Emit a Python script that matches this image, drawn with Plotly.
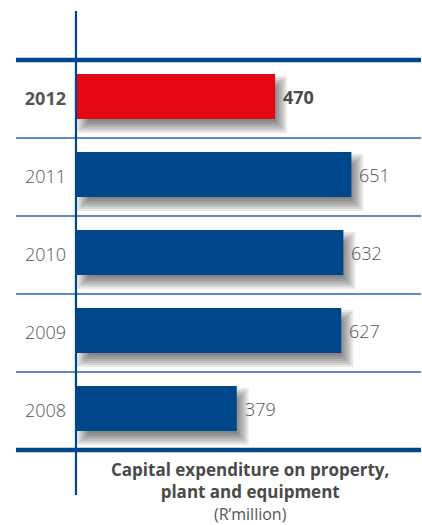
import plotly.graph_objects as go

years = ["2008", "2009", "2010", "2011", "2012"]
values = [379, 627, 632, 651, 470]
highlight_year = "2012"

BLUE = "#00468b"
RED = "#e30613"
TXT = "#555555"

W, H = 422, 525
ML, MR, MT, MB = 77, 1, 11, 30
PX_PER_UNIT_X = 0.4215
ROW_PX = 78.0
xmax = (W - ML - MR) / PX_PER_UNIT_X
top_extra = (60 - MT) / ROW_PX
bot_extra = (H - MB - 450) / ROW_PX
n = len(years)
idx = list(range(n))
bar_up = 2.5 / ROW_PX
bar_w = 45 / ROW_PX

fig = go.Figure()

# soft drop shadow layers
dx, dy = 6, 8
for s in [-6, -4, -2, 0, 2, 4, 6]:
    fig.add_trace(go.Bar(
        orientation="h",
        y=[i + bar_up - dy / ROW_PX for i in idx],
        x=[v - 2 * s / PX_PER_UNIT_X for v in values],
        base=(dx + s) / PX_PER_UNIT_X,
        width=(45 - 2 * s) / ROW_PX,
        marker=dict(color="rgba(0,0,0,0.085)", line=dict(width=0)),
        hoverinfo="skip", showlegend=False,
    ))

colors = [RED if y == highlight_year else BLUE for y in years]
fig.add_trace(go.Bar(
    orientation="h",
    y=[i + bar_up for i in idx],
    x=values,
    width=bar_w,
    marker=dict(color=colors, line=dict(width=0)),
    showlegend=False,
))

for i, (y, v) in enumerate(zip(years, values)):
    bold = y == highlight_year
    fig.add_annotation(
        x=v, y=i + bar_up, xref="x", yref="y",
        text=f"<b>{v}</b>" if bold else str(v),
        showarrow=False, xanchor="left", yanchor="middle", xshift=6,
        font=dict(family="Open Sans", size=18, color="#4a4a4a" if bold else TXT,
                  weight=700 if bold else 300),
    )

ticktext = [f"<b>{y}</b>" if y == highlight_year else y for y in years]

shapes = []
# row separators
for b in [k + 0.5 for k in range(-1, n)]:
    thick = b in (-0.5, n - 0.5)
    shapes.append(dict(type="line", xref="paper", yref="y",
                       x0=(16 - ML) / (W - ML - MR), x1=1, y0=b, y1=b,
                       line=dict(color=BLUE if thick else "#2f63a3", width=4.5 if thick else 1.5),
                       layer="above"))
# vertical axis line
shapes.append(dict(type="line", xref="paper", yref="paper", x0=-0.003, x1=-0.003, y0=0, y1=1,
                   line=dict(color=BLUE, width=2.2), layer="above"))

cx = (250 - ML) / (W - ML - MR)
PH = H - MT - MB
caption = ("<span style='color:#4a4a4a'><b>Capital expenditure on property,</b></span><br>"
           "<span style='color:#4a4a4a'><b>plant and equipment</b></span><br>"
           "<span style='font-size:16px'>(R’million)</span>")
fig.add_annotation(xref="paper", yref="paper", x=cx, y=(H - MB - 491) / PH,
                   text=caption, showarrow=False, align="center",
                   font=dict(family="Open Sans", size=17, color=TXT), yanchor="middle")

fig.update_layout(
    width=W, height=H,
    margin=dict(l=ML, r=MR, t=MT, b=MB),
    barmode="overlay",
    plot_bgcolor="white", paper_bgcolor="white",
    shapes=shapes,
    xaxis=dict(range=[0, xmax], visible=False, fixedrange=True),
    yaxis=dict(range=[-0.5 - bot_extra, n - 0.5 + top_extra],
               tickvals=idx, ticktext=ticktext, showgrid=False, zeroline=False,
               showline=False, ticks="", ticklabelstandoff=10,
               tickfont=dict(family="Open Sans", size=18, color=TXT, weight=300)),
)

fig.write_html("out.html")
